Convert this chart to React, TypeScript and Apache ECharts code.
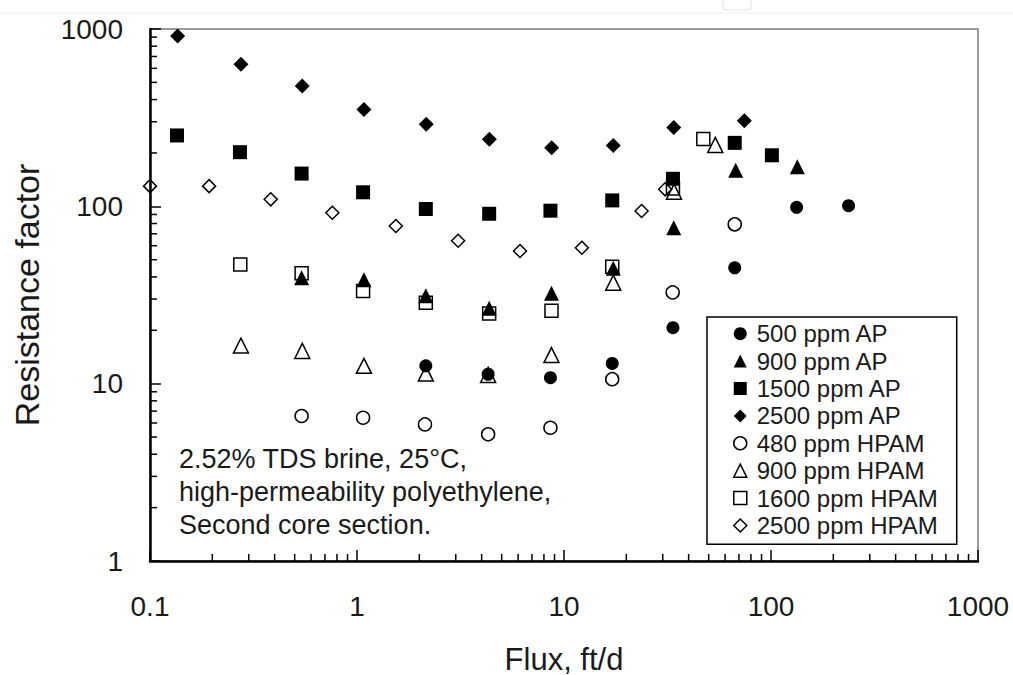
import React, { useEffect, useRef } from "react";
import * as echarts from "echarts";

const FONT = '"Liberation Sans", Arial, Helvetica, sans-serif';

// Axis ticks
const xTickLabels = ["0.1", "1", "10", "100", "1000"];
const yTickLabels = ["1", "10", "100", "1000"];
const minorMultipliers = [2, 3, 4, 5, 6, 7, 8, 9];
const xDecades = [0.1, 1, 10, 100];
const yDecades = [1, 10, 100];

const xAxisName = "Flux, ft/d";
const yAxisName = "Resistance factor";
const noteText = "2.52% TDS brine, 25°C,\nhigh-permeability polyethylene,\nSecond core section.";

// Series data (flux ft/d, resistance factor)
const ap500Flux = [2.15, 4.3, 8.6, 17.1, 33.6, 66.8, 133, 237];
const ap500RF = [12.6, 11.3, 10.8, 13.0, 20.7, 45, 98.7, 100.8];

const ap900Flux = [0.54, 1.08, 2.15, 4.35, 8.7, 17.3, 33.9, 67.5, 134];
const ap900RF = [39.5, 38.5, 31.3, 26.6, 32.3, 44.7, 75.7, 160, 167];

const ap1500Flux = [0.135, 0.272, 0.54, 1.07, 2.15, 4.35, 8.6, 17.1, 33.6, 66.8, 101];
const ap1500RF = [251, 202, 153, 120, 96.6, 90.8, 94.5, 108, 143, 228, 194];

const ap2500Flux = [0.136, 0.275, 0.544, 1.08, 2.16, 4.36, 8.72, 17.3, 33.9, 74.3];
const ap2500RF = [913, 632, 477, 352, 290, 239, 214, 220, 278, 304];

const hpam480Flux = [0.54, 1.07, 2.13, 4.3, 8.6, 17.1, 33.5, 66.8];
const hpam480RF = [6.57, 6.42, 5.89, 5.18, 5.64, 10.6, 32.7, 79.1];

const hpam900Flux = [0.275, 0.544, 1.08, 2.15, 4.3, 8.7, 17.3, 34, 53.8];
const hpam900RF = [16.4, 15.3, 12.6, 11.4, 11.2, 14.5, 37.1, 121, 222];

const hpam1600Flux = [0.273, 0.54, 1.07, 2.15, 4.35, 8.7, 17.1, 33.6, 47.1];
const hpam1600RF = [47, 41.9, 33.3, 28.6, 24.9, 25.8, 45.6, 126, 240];

const hpam2500Flux = [0.1, 0.193, 0.383, 0.76, 1.54, 3.08, 6.13, 12.2, 23.7, 30.8];
const hpam2500RF = [130, 130, 109.5, 92, 77.4, 64, 56, 58.4, 94.1, 124.7];

const seriesNames = [
  "500 ppm AP",
  "900 ppm AP",
  "1500 ppm AP",
  "2500 ppm AP",
  "480 ppm HPAM",
  "900 ppm HPAM",
  "1600 ppm HPAM",
  "2500 ppm HPAM",
];
const seriesFlux = [ap500Flux, ap900Flux, ap1500Flux, ap2500Flux, hpam480Flux, hpam900Flux, hpam1600Flux, hpam2500Flux];
const seriesRF = [ap500RF, ap900RF, ap1500RF, ap2500RF, hpam480RF, hpam900RF, hpam1600RF, hpam2500RF];

// Styles
const symbols = ["circle", "triangle", "rect", "diamond", "circle", "triangle", "rect", "diamond"];
const filled = [true, true, true, true, false, false, false, false];
const sizes = [13, 15, 14, 15, 13, 15, 13, 13];

const zip = (a: number[], b: number[]) => a.map((v, i) => [v, b[i]]);

const styleFor = (i: number) =>
  filled[i]
    ? { color: "#000", borderWidth: 0, opacity: 1 }
    : { color: "rgba(0,0,0,0)", borderColor: "#000", borderWidth: 1.5, opacity: 1 };

const fmtTick = (labels: string[]) => (v: number) => {
  const found = labels.find((l) => Math.abs(Math.log10(Number(l)) - Math.log10(v)) < 1e-6);
  return found ?? String(Number(v.toPrecision(6)));
};

export default function App() {
  const ref = useRef<HTMLDivElement>(null);
  useEffect(() => {
    if (!ref.current) return;
    const chart = echarts.init(ref.current, undefined, { renderer: "svg" });

    const scatterSeries = seriesNames.map((name, i) => ({
      name,
      type: "scatter",
      symbol: symbols[i],
      symbolSize: sizes[i],
      clip: false,
      itemStyle: styleFor(i),
      emphasis: { disabled: true },
      data: zip(seriesFlux[i], seriesRF[i]),
      z: 3,
    }));

    const xMinor: number[][] = [];
    xDecades.forEach((d) => minorMultipliers.forEach((m) => xMinor.push([d * m, 1])));
    const yMinor: number[][] = [];
    yDecades.forEach((d) => minorMultipliers.forEach((m) => yMinor.push([0.1, d * m])));

    const option: any = {
      animation: false,
      backgroundColor: "#fff",
      textStyle: { fontFamily: FONT },
      grid: {
        left: 150,
        top: 29,
        width: 828,
        height: 532,
        containLabel: false,
        outerBoundsMode: "none",
        show: true,
        borderColor: "#7a7a7a",
        borderWidth: 1.5,
        backgroundColor: "transparent",
      },
      xAxis: {
        type: "log",
        logBase: 10,
        min: 0.1,
        max: 1000,
        name: xAxisName,
        nameLocation: "middle",
        nameGap: 85,
        nameTextStyle: { fontSize: 31, lineHeight: 26, color: "#1a1a1a", fontFamily: FONT },
        axisLine: { show: true, lineStyle: { color: "#000", width: 2.5 } },
        axisTick: { show: true, inside: true, length: 11, lineStyle: { color: "#000", width: 1.5 } },
        axisLabel: { fontSize: 28, color: "#1a1a1a", margin: 31, fontFamily: FONT, formatter: fmtTick(xTickLabels) },
        splitLine: { show: false },
      },
      yAxis: {
        type: "log",
        logBase: 10,
        min: 1,
        max: 1000,
        name: yAxisName,
        nameLocation: "middle",
        nameGap: 106,
        nameRotate: 90,
        nameTextStyle: { fontSize: 34, color: "#1a1a1a", fontFamily: FONT },
        axisLine: { show: true, lineStyle: { color: "#000", width: 2.5 } },
        axisTick: { show: true, inside: true, length: 11, lineStyle: { color: "#000", width: 1.5 } },
        axisLabel: { fontSize: 28, color: "#1a1a1a", margin: 27, fontFamily: FONT, formatter: fmtTick(yTickLabels) },
        splitLine: { show: false },
      },
      legend: {
        orient: "vertical",
        left: 707,
        top: 317,
        padding: [3, 19, 5, 26],
        itemGap: 0,
        itemWidth: 13,
        itemHeight: 13,
        borderColor: "#000",
        borderWidth: 1.5,
        backgroundColor: "#fff",
        selectedMode: false,
        textStyle: { fontSize: 24, color: "#1a1a1a", fontFamily: FONT, lineHeight: 27.4, padding: [0, 0, 0, 5] },
        data: seriesNames.map((name, i) => ({
          name,
          icon: symbols[i],
          itemStyle: styleFor(i),
        })),
      },
      graphic: [
        {
          type: "line",
          shape: { x1: 0, y1: 13, x2: 1013, y2: 13 },
          style: { stroke: "#ececec", lineWidth: 1 },
          silent: true,
        },
        {
          type: "rect",
          shape: { x: 723, y: -6, width: 28, height: 16, r: 3 },
          style: { fill: "#fff", stroke: "#e4e4e4", lineWidth: 1.2 },
          silent: true,
        },
        {
          type: "text",
          left: 179,
          top: 442,
          silent: true,
          style: {
            text: noteText,
            fontSize: 27,
            fontFamily: FONT,
            lineHeight: 33,
            fill: "#1a1a1a",
          },
        },
      ],
      series: [
        ...scatterSeries,
        {
          type: "custom",
          name: "xMinorTicks",
          silent: true,
          clip: false,
          z: 4,
          data: xMinor,
          renderItem: (params: any, api: any) => {
            const p = api.coord([api.value(0), api.value(1)]);
            return {
              type: "line",
              shape: { x1: p[0], y1: p[1], x2: p[0], y2: p[1] - 7 },
              style: { stroke: "#000", lineWidth: 1.5 },
            };
          },
        },
        {
          type: "custom",
          name: "yMinorTicks",
          silent: true,
          clip: false,
          z: 4,
          data: yMinor,
          renderItem: (params: any, api: any) => {
            const p = api.coord([api.value(0), api.value(1)]);
            return {
              type: "line",
              shape: { x1: p[0], y1: p[1], x2: p[0] + 7, y2: p[1] },
              style: { stroke: "#000", lineWidth: 1.5 },
            };
          },
        },
      ],
    };

    chart.setOption(option);
    return () => chart.dispose();
  }, []);

  return (
    <div
      ref={ref}
      style={{ position: "fixed", left: 0, top: 0, width: 1013, height: 675, background: "#fff" }}
    />
  );
}
